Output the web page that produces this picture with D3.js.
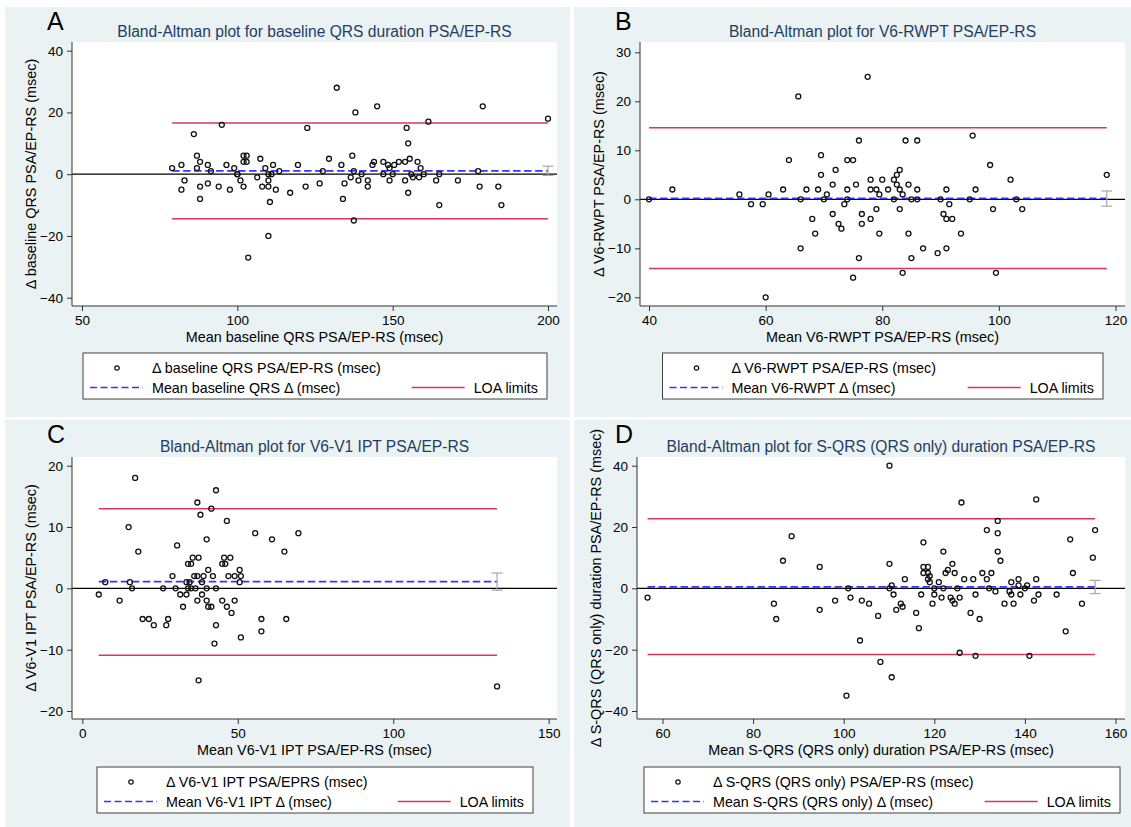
<!DOCTYPE html>
<html>
<head>
<meta charset="utf-8">
<script src="https://cdn.jsdelivr.net/npm/d3@7/dist/d3.min.js"></script>
<style>
    body { margin: 0; background: #ffffff; }
    svg text { font-family: "Liberation Sans", Arial, sans-serif; }
</style>
</head>
<body>
<svg id="Chart"></svg>
<script>
    // ---- Panel A : baseline QRS duration ----
    let aMean = [79,82,82,83,86,87,87,88,88,88,90.5,90.5,91.5,94,95,96.5,97.6,99,100,100,
        101,102,102,103,102,103,103.5,106.4,107.4,108,109,110,110,110,111,110.5,110,111.5,112.4,113.5,
        117,119.5,122,122.5,126.5,127.5,129.5,132,133.5,134,134.5,136.5,137,137.5,138,137.5,139,140,142,142,
        143.5,144,145,147,147,148.5,149,149,150,150.5,152,154,154,154.5,155,155,155.5,156,156.5,158,
        158.5,159,160,161.5,164,165,165,171,177.5,178,179,184,185,200]
    let aDiff = [2,3,-5,-2,13,6,2,4,-4,-8,3,-3,1,-4,16,3,-5,2,0,0,
        -2,-4,6,6,4,4,-27,-1,5,-4,2,-2,-4,0,0,-9,-20,3,-5,1,
        -6,3,-4,15,-3,1,5,28,3,-8,-3,-1,6,1,20,-15,-2,0,-2,-4,
        3,4,22,4,0,3,2,-2,0,3,4,4,-2,15,10,-6,5,0,-1,4,
        -1,2,0,17,-2,0,-10,-2,1,-4,22,-4,-10,18]
    let aLines = {mean: 1.1, loaLow: -14.4, loaHigh: 16.6, ciLow: -0.4, ciHigh: 2.6}
    let aXTicks = [50, 100, 150, 200]
    let aYTicks = [-40, -20, 0, 20, 40]

    // ---- Panel B : V6-RWPT ----
    let bMean = [40,44,55.5,57.5,59.5,60,60.5,63,64,65.6,66,66,67,68,68.5,69,69.5,69.5,70,70.5,
        71.5,71.5,72,72.5,73,73.5,74,74,74,75,75,75.5,76,76,76.5,76.5,77.5,78,78,78,
        79,79,79.5,79.5,80,81,82,82,82.5,82.5,83,83,83,83.5,83.5,84,84.5,84.5,85,85,
        86,86,86,87,89.5,90,90.5,91,91,91,91.5,92,93.5,95,95.5,96,98.5,99,99.5,102,
        103,104,118.5]
    let bDiff = [0,2,1,-1,-1,-20,1,2,8,21,0,-10,2,-4,-7,2,9,5,0,1,
        3,-3,6,-5,-6,-1,8,2,0,8,-16,3,12,-12,-3,-5,25,4,2,-4,
        2,-2,1,-7,4,2,4,0,5,3,6,2,-2,1,-15,12,3,-7,0,-12,
        12,2,0,-10,-11,0,-3,2,-4,-10,-1,-4,-7,0,13,2,7,-2,-15,4,
        0,-2,5]
    let bLines = {mean: 0.2, loaLow: -14.1, loaHigh: 14.6, ciLow: -1.4, ciHigh: 1.7}
    let bXTicks = [40, 60, 80, 100, 120]
    let bYTicks = [-20, -10, 0, 10, 20, 30]

    // ---- Panel C : V6-V1 IPT ----
    let cMean = [5.3,7.4,12,14.9,15.3,16,17,18,19.4,21.4,23,26,27,27.6,29,30,30.5,31.5,32.4,33.5,
        33.5,34,34,35,34.5,35,35.5,36,36.4,37,37,37,37.4,37.4,38,38.5,38.5,39,40,40,
        40,40.5,40.5,41.5,41.5,42,42.5,43,43,43,45,45,45.6,46,46.5,46.5,47,47.6,48,49,
        49,50.6,50.6,51,51,55.6,57.6,57.6,61,65,65.6,69.5,133.4]
    let cDiff = [-1,1,-2,10,1,0,18,6,-5,-5,-6,0,-6,-5,2,0,7,-1,-3,1,
        -1,0,4,4,1,0,5,2,0,14,2,-2,5,-15,12,1,-1,2,8,0,
        -2,3,-3,13,-3,2,-9,16,0,-6,4,-2,5,4,11,-3,2,5,-4,2,
        -2,3,1,2,-8,9,-5,-7,8,6,-5,9,-16]
    let cLines = {mean: 1.1, loaLow: -10.9, loaHigh: 13.0, ciLow: -0.3, ciHigh: 2.5}
    let cXTicks = [0, 50, 100, 150]
    let cYTicks = [-20, -10, 0, 10, 20]

    // ---- Panel D : S-QRS (QRS only) duration ----
    let dMean = [56.7,84.6,85.1,86.6,88.5,94.7,94.7,98.1,101,100.6,101.5,103.6,104,105.6,107.6,108.1,110.1,110.1,110.1,110.6,
        110.6,111,111.6,112.6,113,113.5,116,116.6,117.1,117.6,117.6,117.6,118.6,118.6,118.6,119,119,119.6,120,120,
        121,121.6,122,122,122.5,123,123.6,124,124,124.5,124.5,125.1,125.6,125.6,126,126.6,128,128.6,129.1,129.1,
        130,130.6,131.6,131.6,132.1,132.6,133.5,134,134,134,134.6,135.5,136.6,137,137,137.5,138.6,138.6,139,140,
        140.5,141,142,142.5,142.5,143,147,149,150,150.6,152.6,155,155.5]
    let dDiff = [-3,-5,-10,9,17,7,-7,-4,0,-35,-3,-17,-4,-5,-9,-24,40,8,0,1,
        -29,-2,-7,-5,-6,3,-8,-13,-2,15,7,5,7,5,3,4,2,-5,0,-2,
        2,-3,12,0,5,6,-3,8,-4,5,-5,0,-3,-21,28,3,-8,3,-2,-22,
        -10,5,19,3,0,5,-1,22,18,12,9,-5,-1,2,-2,-5,3,1,-2,0,
        1,-22,-4,29,3,-2,-2,-14,16,5,-5,10,19]
    let dLines = {mean: 0.5, loaLow: -21.6, loaHigh: 22.7, ciLow: -1.7, ciHigh: 2.6}
    let dXTicks = [60, 80, 100, 120, 140, 160]
    let dYTicks = [-40, -20, 0, 20, 40]

    let letters = ["A", "B", "C", "D"]
    let titles = [
        "Bland-Altman plot for baseline QRS duration PSA/EP-RS",
        "Bland-Altman plot for V6-RWPT PSA/EP-RS",
        "Bland-Altman plot for V6-V1 IPT PSA/EP-RS",
        "Bland-Altman plot for S-QRS (QRS only) duration PSA/EP-RS"
    ]
    let xTitles = [
        "Mean baseline QRS PSA/EP-RS (msec)",
        "Mean V6-RWPT PSA/EP-RS (msec)",
        "Mean V6-V1 IPT PSA/EP-RS (msec)",
        "Mean S-QRS (QRS only) duration PSA/EP-RS (msec)"
    ]
    let yTitles = [
        "\u0394 baseline QRS PSA/EP-RS (msec)",
        "\u0394 V6-RWPT PSA/EP-RS (msec)",
        "\u0394 V6-V1 IPT PSA/EP-RS (msec)",
        "\u0394 S-QRS (QRS only) duration PSA/EP-RS (msec)"
    ]
    let pointLabels = [
        "\u0394 baseline QRS PSA/EP-RS (msec)",
        "\u0394 V6-RWPT PSA/EP-RS (msec)",
        "\u0394 V6-V1 IPT PSA/EPRS (msec)",
        "\u0394 S-QRS (QRS only) PSA/EP-RS (msec)"
    ]
    let meanLabels = [
        "Mean baseline QRS \u0394 (msec)",
        "Mean V6-RWPT \u0394 (msec)",
        "Mean V6-V1 IPT \u0394 (msec)",
        "Mean S-QRS (QRS only) \u0394 (msec)"
    ]
    let loaLabel = "LOA limits"

    // Where each panel sits on the page (pixels). tx/ty: pixel positions of first and last tick.
    let layouts = [
        {bg: [5, 7, 565, 410], plot: [72, 42, 557, 306], tx: [82, 548], ty: [297.7, 50.7], legend: [83, 353, 547, 399], letterX: 47, letterY: 30},
        {bg: [574, 7, 557, 410], plot: [640, 42, 1125, 306], tx: [649, 1115.5], ty: [297.3, 52.3], legend: [662.5, 353, 1103, 399], letterX: 615, letterY: 30},
        {bg: [5, 420, 565, 407], plot: [72, 457, 557, 719], tx: [82.3, 548.7], ty: [711, 465.7], legend: [97, 767, 533, 813], letterX: 47, letterY: 443},
        {bg: [574, 420, 557, 407], plot: [637, 457, 1125, 719], tx: [662.5, 1115.5], ty: [711, 465.7], legend: [644, 767, 1120, 813], letterX: 615, letterY: 443}
    ]

    let colors = {
        background: "#eaf2f3",
        title: "#1e3d64",
        axis: "#333333",
        points: "#111111",
        mean: "#3434ff",
        loa: "#d9365a",
        ci: "#a8a8a8"
    }

    function getPanels() {
        let means = [aMean, bMean, cMean, dMean]
        let diffs = [aDiff, bDiff, cDiff, dDiff]
        let lines = [aLines, bLines, cLines, dLines]
        let xTicks = [aXTicks, bXTicks, cXTicks, dXTicks]
        let yTicks = [aYTicks, bYTicks, cYTicks, dYTicks]
        return letters.map((letter, i) => ({
            letter,
            title: titles[i],
            xTitle: xTitles[i],
            yTitle: yTitles[i],
            pointLabel: pointLabels[i],
            meanLabel: meanLabels[i],
            points: means[i].map((m, j) => ({mean: m, diff: diffs[i][j]})),
            lines: lines[i],
            xTicks: xTicks[i],
            yTicks: yTicks[i],
            layout: layouts[i]
        }))
    }

    function getScales(panel) {
        let {tx, ty} = panel.layout
        let xScale = d3.scaleLinear()
            .domain([panel.xTicks[0], panel.xTicks[panel.xTicks.length - 1]])
            .range(tx)
        let yScale = d3.scaleLinear()
            .domain([panel.yTicks[0], panel.yTicks[panel.yTicks.length - 1]])
            .range(ty)
        return {xScale, yScale}
    }

    function drawPanel(container, panel) {
        let {bg, plot, legend, letterX, letterY} = panel.layout
        let {xScale, yScale} = getScales(panel)
        let [left, top, right, bottom] = plot
        let g = container.append("g")

        g.append("rect")
            .attr("x", bg[0]).attr("y", bg[1])
            .attr("width", bg[2]).attr("height", bg[3])
            .attr("fill", colors.background)

        g.append("rect")
            .attr("x", left).attr("y", top)
            .attr("width", right - left).attr("height", bottom - top)
            .attr("fill", "#ffffff")

        // panel letter and title
        g.append("text")
            .attr("x", letterX).attr("y", letterY)
            .attr("font-size", 25)
            .attr("fill", "#000")
            .text(panel.letter)

        g.append("text")
            .attr("x", (left + right) / 2).attr("y", top - 5)
            .attr("text-anchor", "middle")
            .attr("font-size", 15.6)
            .attr("fill", colors.title)
            .text(panel.title)

        drawMarks(g, panel, xScale, yScale)
        drawAxes(g, panel, xScale, yScale)
        drawLegend(g, panel, legend)
    }

    function drawMarks(g, panel, xScale, yScale) {
        let [left, top, right, bottom] = panel.layout.plot
        let {mean, loaLow, loaHigh, ciLow, ciHigh} = panel.lines
        let xMin = d3.min(panel.points, d => d.mean)
        let xMax = d3.max(panel.points, d => d.mean)

        // zero reference line over the whole plot width
        g.append("line")
            .attr("x1", left).attr("x2", right)
            .attr("y1", yScale(0)).attr("y2", yScale(0))
            .attr("stroke", "#000").attr("stroke-width", 1.2)

        g.selectAll(".loa")
            .data([loaLow, loaHigh])
            .enter()
            .append("line")
            .attr("x1", xScale(xMin)).attr("x2", xScale(xMax))
            .attr("y1", d => yScale(d)).attr("y2", d => yScale(d))
            .attr("stroke", colors.loa).attr("stroke-width", 1.5)

        g.append("line")
            .attr("x1", xScale(xMin)).attr("x2", xScale(xMax))
            .attr("y1", yScale(mean)).attr("y2", yScale(mean))
            .attr("stroke", colors.mean).attr("stroke-width", 1.7)
            .attr("stroke-dasharray", "7.5,3.5")

        // confidence interval of the mean difference, drawn as a capped bar
        let cx = xScale(xMax)
        let ci = g.append("g").attr("stroke", colors.ci).attr("stroke-width", 1.2)
        ci.append("line")
            .attr("x1", cx).attr("x2", cx)
            .attr("y1", yScale(ciLow)).attr("y2", yScale(ciHigh))
        ci.selectAll(".cap")
            .data([ciLow, ciHigh])
            .enter()
            .append("line")
            .attr("x1", cx - 5.5).attr("x2", cx + 5.5)
            .attr("y1", d => yScale(d)).attr("y2", d => yScale(d))

        g.selectAll(".pt")
            .data(panel.points)
            .enter()
            .append("circle")
            .attr("cx", d => xScale(d.mean))
            .attr("cy", d => yScale(d.diff))
            .attr("r", 2.5)
            .attr("fill", "none")
            .attr("stroke", colors.points)
            .attr("stroke-width", 1.3)
    }

    function drawAxes(g, panel, xScale, yScale) {
        let [left, top, right, bottom] = panel.layout.plot

        let axisX = d3.axisBottom(xScale)
            .tickValues(panel.xTicks)
            .tickSize(5)
            .tickPadding(4)
            .tickSizeOuter(0)
        let gx = g.append("g")
            .attr("transform", `translate(0,${bottom})`)
            .call(axisX)

        let axisY = d3.axisLeft(yScale)
            .tickValues(panel.yTicks)
            .tickSize(5)
            .tickPadding(4)
            .tickSizeOuter(0)
        let gy = g.append("g")
            .attr("transform", `translate(${left},0)`)
            .call(axisY)

        // the axis lines run along the whole plot region, not only between the ticks
        ;[gx, gy].forEach(a => {
            a.select(".domain").remove()
            a.selectAll("line").attr("stroke", colors.axis)
            a.selectAll("text")
                .attr("font-size", 13.5)
                .attr("fill", "#000")
                .style("font-family", '"Liberation Sans", Arial, sans-serif')
        })
        g.append("line")
            .attr("x1", left).attr("x2", right)
            .attr("y1", bottom).attr("y2", bottom)
            .attr("stroke", colors.axis)
        g.append("line")
            .attr("x1", left).attr("x2", left)
            .attr("y1", top).attr("y2", bottom)
            .attr("stroke", colors.axis)

        g.append("text")
            .attr("x", (left + right) / 2).attr("y", bottom + 36)
            .attr("text-anchor", "middle")
            .attr("font-size", 14.4)
            .attr("fill", "#000")
            .text(panel.xTitle)

        let yMid = (top + bottom) / 2
        g.append("text")
            .attr("transform", `translate(${left - 36},${yMid}) rotate(-90)`)
            .attr("text-anchor", "middle")
            .attr("font-size", 14.4)
            .attr("fill", "#000")
            .text(panel.yTitle)
    }

    function drawLegend(g, panel, box) {
        let [x0, y0, x1, y1] = box
        let row1 = y0 + 20
        let row2 = y0 + 39.5

        g.append("rect")
            .attr("x", x0).attr("y", y0)
            .attr("width", x1 - x0).attr("height", y1 - y0)
            .attr("fill", "#ffffff")
            .attr("stroke", "#404040").attr("stroke-width", 1)

        g.append("circle")
            .attr("cx", x0 + 34).attr("cy", row1 - 5)
            .attr("r", 2.2)
            .attr("fill", "none").attr("stroke", colors.points).attr("stroke-width", 1.2)

        g.append("line")
            .attr("x1", x0 + 7).attr("x2", x0 + 60)
            .attr("y1", row2 - 5).attr("y2", row2 - 5)
            .attr("stroke", colors.mean).attr("stroke-width", 1.6)
            .attr("stroke-dasharray", "7,3.5")

        let texts = g.append("g").attr("font-size", 14.3).attr("fill", "#000")
        texts.append("text").attr("x", x0 + 69).attr("y", row1).text(panel.pointLabel)
        texts.append("text").attr("x", x0 + 69).attr("y", row2).text(panel.meanLabel)
        let loaText = texts.append("text")
            .attr("x", x1 - 9).attr("y", row2)
            .attr("text-anchor", "end")
            .text(loaLabel)

        let textStart = x1 - 9 - loaText.node().getComputedTextLength()
        g.append("line")
            .attr("x1", textStart - 62).attr("x2", textStart - 9)
            .attr("y1", row2 - 5).attr("y2", row2 - 5)
            .attr("stroke", colors.loa).attr("stroke-width", 1.4)
    }

    function showChart() {
        let container = d3.select("#Chart")
            .attr("width", 1131)
            .attr("height", 827)
        getPanels().forEach(panel => drawPanel(container, panel))
    }

    showChart()
</script>
</body>
</html>
